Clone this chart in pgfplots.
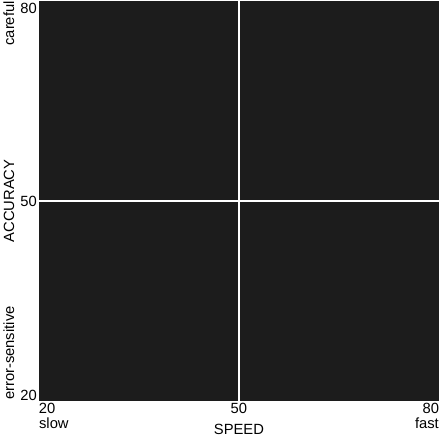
\documentclass[border=0pt]{standalone}
\usepackage{pgfplots}
\pgfplotsset{compat=1.18}
\usepackage{fontspec}
\setmainfont{Liberation Sans}
\definecolor{bgdark}{RGB}{28,28,28}
\newcommand{\fs}{\fontsize{14.8}{17}\selectfont}
\begin{document}
\begin{tikzpicture}
\begin{axis}[
  scale only axis,
  width=401pt, height=401pt,
  xmin=20, xmax=80, ymin=20, ymax=80,
  axis background/.style={fill=bgdark},
  axis line style={draw=none},
  major tick length=0pt,
  /pgf/number format/assume math mode=true,
  xtick={20,50,80},
  xticklabels={\makebox[0pt][l]{20},50,\makebox[0pt][r]{80}},
  xticklabel style={font=\fs, anchor=north, inner sep=0pt, yshift=-2pt},
  ytick={20,50,80},
  yticklabels={\raisebox{1pt}[0pt][0pt]{20},\raisebox{-5pt}[0pt][0pt]{50},\raisebox{-12.5pt}[0pt][0pt]{80}},
  yticklabel style={font=\fs, anchor=east, inner sep=0pt, xshift=-2pt},
  xlabel={SPEED},
  xlabel style={font=\fs, at={(axis description cs:0.5,0)}, anchor=north, yshift=-23pt, inner sep=0pt},
  ylabel={ACCURACY},
  ylabel style={font=\fs, at={(axis description cs:0,0.5)}, rotate=0, anchor=south, yshift=24.5pt, inner sep=0pt},
  clip=false,
]
\addplot[white, line width=2pt] coordinates {(50,20) (50,80)};
\addplot[white, line width=2pt] coordinates {(20,50) (80,50)};
\node[font=\fs, anchor=north west, inner sep=0pt, yshift=-17pt] at (rel axis cs:0,0) {slow};
\node[font=\fs, anchor=north east, inner sep=0pt, yshift=-17pt] at (rel axis cs:1,0) {fast};
\node[font=\fs, rotate=90, anchor=south east, inner sep=0pt, yshift=24.5pt] at (rel axis cs:0,1) {careful};
\node[font=\fs, rotate=90, anchor=south west, inner sep=0pt, yshift=24.5pt, xshift=1pt] at (rel axis cs:0,0) {error-sensitive};
\coordinate (O) at (rel axis cs:0,0);
\end{axis}
\path (O) ++(-39pt,-36pt) coordinate (bb);
\end{tikzpicture}
\end{document}
